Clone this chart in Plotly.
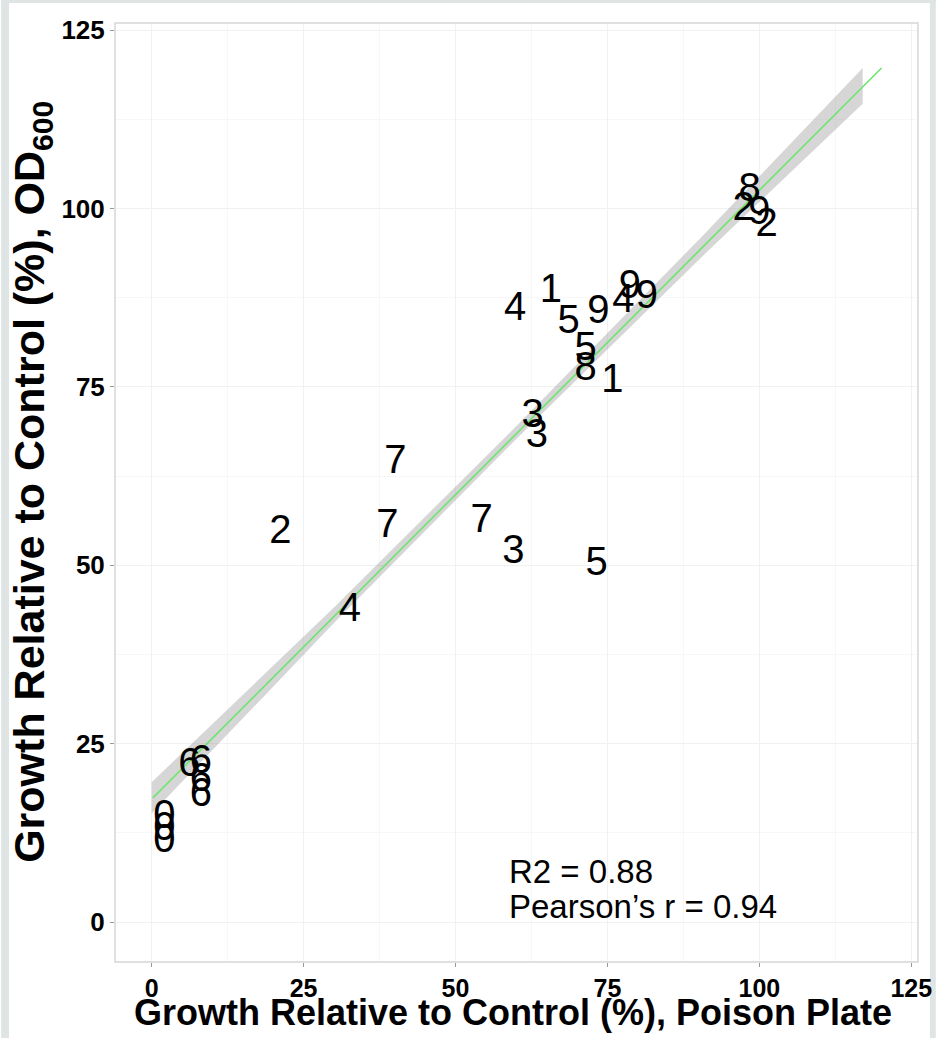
import plotly.graph_objects as go

# ---- data ----
pt_label = ["0", "0", "0", "6", "6", "6", "6", "4", "2", "7", "7", "7", "3", "5",
            "3", "3", "4", "1", "5", "9", "4", "9", "9", "5", "8", "1",
            "8", "2", "9", "2"]
pt_x = [2.1, 2.1, 2.1, 6.2, 8.1, 8.1, 8.1, 32.6, 21.2, 40.1, 38.8, 54.3, 59.5, 73.2,
        62.7, 63.4, 59.8, 65.7, 68.6, 73.5, 77.6, 78.7, 81.5, 71.4, 71.4, 75.8,
        98.4, 97.4, 100.0, 101.2]
pt_y = [14.6, 12.9, 11.2, 21.8, 22.3, 19.8, 17.6, 43.6, 54.5, 64.3, 55.4, 56.1, 51.7, 50.0,
        70.8, 68.0, 85.8, 88.3, 83.9, 85.3, 86.9, 88.8, 87.4, 80.2, 77.4, 75.7,
        102.4, 99.8, 99.3, 97.6]

fit_x = [0.2, 120.1]
fit_y = [17.4, 119.7]

band_x = [0, 30, 60, 90, 117]
band_upper = [19.6, 44.1, 69.5, 95.6, 119.7]
band_lower = [15.2, 41.9, 67.7, 92.8, 114.7]

tick_vals = [0, 25, 50, 75, 100, 125]
tick_text = ["0", "25", "50", "75", "100", "125"]
minor_vals = [12.5, 37.5, 62.5, 87.5, 112.5]

stats_text = ["R2 = 0.88", "Pearson’s r = 0.94"]
x_title = "Growth Relative to Control (%), Poison Plate"
y_title = "Growth Relative to Control (%), OD<sub>600</sub>"

W, H = 944, 1038
L, R, T, B = 115, 18, 23, 76

fig = go.Figure()

fig.add_trace(go.Scatter(
    x=band_x + band_x[::-1], y=band_upper + band_lower[::-1],
    fill="toself", fillcolor="rgba(153,153,153,0.4)", line=dict(width=0),
    mode="lines", hoverinfo="skip", showlegend=False))

fig.add_trace(go.Scatter(
    x=fit_x, y=fit_y, mode="lines", line=dict(color="#6ee46e", width=1.6),
    showlegend=False))

fig.add_trace(go.Scatter(
    x=pt_x, y=pt_y, mode="text", text=pt_label, textposition="middle center",
    textfont=dict(family="Liberation Sans, Arial, sans-serif", size=40, color="black"),
    showlegend=False))

for i, s in enumerate(stats_text):
    fig.add_annotation(x=58.5, y=7.1 - i * 4.9, xref="x", yref="y", text=s,
                       showarrow=False, xanchor="left", yanchor="middle",
                       font=dict(family="Liberation Sans, Arial, sans-serif", size=33, color="black"))

grid_col = "#f1f1f1"
axis_common = dict(
    showgrid=True, gridcolor=grid_col, gridwidth=1,
    minor=dict(tickvals=minor_vals, showgrid=True, gridcolor="#f7f7f7", gridwidth=1, ticks=""),
    tickvals=tick_vals, ticktext=tick_text,
    ticks="outside", ticklen=4, tickcolor="#999999", tickwidth=1,
    zeroline=False, showline=False,
)

fig.update_xaxes(
    range=[-6.03, 126.1], **axis_common,
    tickfont=dict(family="Liberation Sans, Arial, sans-serif",
                  size=25, color="black", weight="bold"),
)
fig.update_yaxes(
    range=[-5.6, 126.0], **axis_common,
    tickfont=dict(family="Liberation Sans, Arial, sans-serif", size=26, color="black", weight="bold"),
)

pw = W - L - R
ph = H - T - B
def px_x(p):
    return (p - L) / pw
def px_y(p):
    return 1 - (p - T) / ph

# axis titles as annotations placed where the reference shows them
fig.add_annotation(x=px_x(517), y=px_y(1012), xref="paper", yref="paper", text=x_title,
                   showarrow=False, xanchor="center", yanchor="middle",
                   font=dict(family="Liberation Sans, Arial, sans-serif", size=36,
                             color="black", weight="bold"))
fig.add_annotation(x=px_x(31), y=px_y(482), xref="paper", yref="paper", text=y_title,
                   showarrow=False, xanchor="center", yanchor="middle", textangle=-90,
                   font=dict(family="Liberation Sans, Arial, sans-serif", size=43,
                             color="black", weight="bold"))

# panel border
fig.add_shape(type="rect", xref="paper", yref="paper", x0=0, y0=0, x1=1, y1=1,
              line=dict(color="#d6d6d6", width=1.5), layer="above")

# light grey outer frame (left, top, right strips)
frame_col = "#dfe5e5"
fig.add_shape(type="rect", xref="paper", yref="paper", x0=px_x(0), x1=px_x(8),
              y0=px_y(H), y1=px_y(0), fillcolor=frame_col, line=dict(width=0), layer="below")
fig.add_shape(type="rect", xref="paper", yref="paper", x0=px_x(0), x1=px_x(W),
              y0=px_y(3), y1=px_y(0), fillcolor=frame_col, line=dict(width=0), layer="below")
fig.add_shape(type="rect", xref="paper", yref="paper", x0=px_x(938), x1=px_x(W),
              y0=px_y(H), y1=px_y(0), fillcolor=frame_col, line=dict(width=0), layer="below")

fig.update_layout(
    width=W, height=H,
    margin=dict(l=L, r=R, t=T, b=B, pad=0),
    paper_bgcolor="white", plot_bgcolor="white",
    font=dict(family="Liberation Sans, Arial, sans-serif", color="black"),
    showlegend=False,
)

fig.write_html(
    "out.html",
    config={"displayModeBar": False},
    post_script="document.body.style.margin='0';document.body.style.overflow='hidden';",
)
